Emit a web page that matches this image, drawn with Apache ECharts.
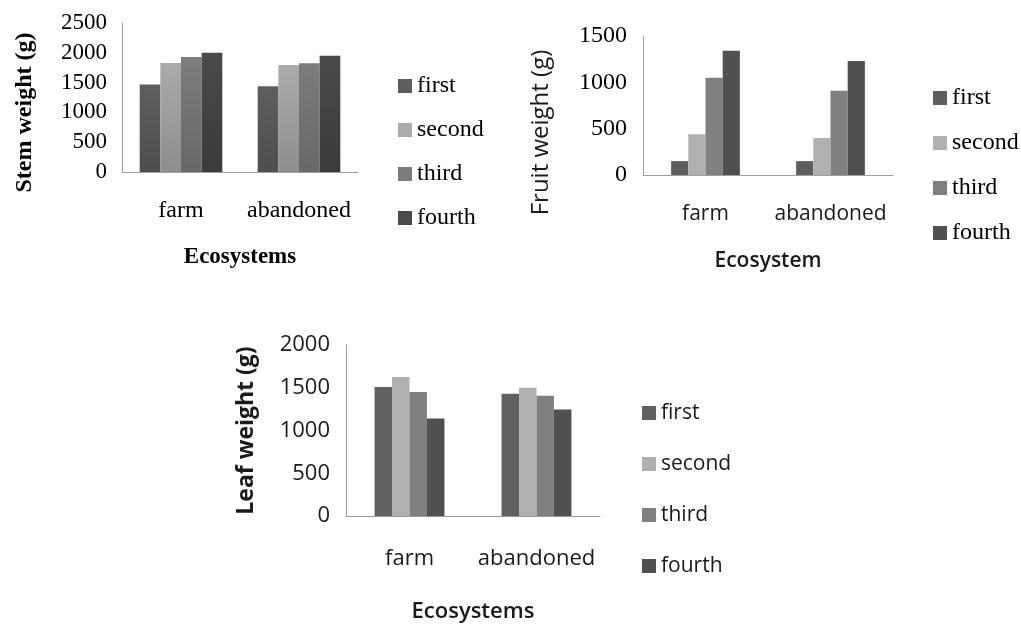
<!DOCTYPE html>
<html>
<head>
<meta charset="utf-8">
<script src="https://cdn.jsdelivr.net/npm/echarts@6/dist/echarts.min.js"></script>
<style>
html,body{margin:0;padding:0;background:#fff;}
#c{width:1021px;height:627px;}
</style>
</head>
<body>
<div id="c"></div>
<script>
const categories = ['farm', 'abandoned'];
const seriesNames = ['first', 'second', 'third', 'fourth'];

const stemFirst = [1470, 1440];
const stemSecond = [1830, 1795];
const stemThird = [1930, 1825];
const stemFourth = [2000, 1950];

const fruitFirst = [150, 150];
const fruitSecond = [440, 400];
const fruitThird = [1050, 910];
const fruitFourth = [1340, 1230];

const leafFirst = [1510, 1430];
const leafSecond = [1625, 1500];
const leafThird = [1450, 1405];
const leafFourth = [1140, 1245];

const stemData = [stemFirst, stemSecond, stemThird, stemFourth];
const fruitData = [fruitFirst, fruitSecond, fruitThird, fruitFourth];
const leafData = [leafFirst, leafSecond, leafThird, leafFourth];

const stemColors = [['#5e5e5e', '#4e4e4e'], ['#ababab', '#8e8e8e'], ['#7c7c7c', '#686868'], ['#4a4a4a', '#3a3a3a']];
const fruitColors = ['#5e5e5e', '#b0b0b0', '#808080', '#505050'];
const leafColors = ['#616161', '#b0b0b0', '#808080', '#505050'];

const serif = 'Liberation Serif';
const sans = 'Open Sans';

function grad(c) {
  return new echarts.graphic.LinearGradient(0, 0, 0, 1, [
    { offset: 0, color: c[0] }, { offset: 1, color: c[1] }
  ]);
}
function plain(v) { return String(v); }

const chart = echarts.init(document.getElementById('c'), null, { renderer: 'canvas' });

const series = [];
seriesNames.forEach((n, i) => {
  series.push({
    name: n, type: 'bar', xAxisIndex: 0, yAxisIndex: 0, data: stemData[i],
    barGap: '0%', barCategoryGap: '30%',
    itemStyle: { color: grad(stemColors[i]) }
  });
});
seriesNames.forEach((n, i) => {
  series.push({
    name: n, type: 'bar', xAxisIndex: 1, yAxisIndex: 1, data: fruitData[i],
    barGap: '0%', barCategoryGap: '45%',
    itemStyle: { color: fruitColors[i] }
  });
});
seriesNames.forEach((n, i) => {
  series.push({
    name: n, type: 'bar', xAxisIndex: 2, yAxisIndex: 2, data: leafData[i],
    barGap: '0%', barCategoryGap: '45%',
    itemStyle: { color: leafColors[i] }
  });
});

function legendData(colors) {
  return seriesNames.map((n, i) => ({
    name: n, icon: 'rect',
    itemStyle: { color: Array.isArray(colors[i]) ? colors[i][0] : colors[i] }
  }));
}

const axisLineStyle = { show: true, lineStyle: { color: '#a0a0a0', width: 1 } };

const option = {
  animation: false,
  backgroundColor: '#ffffff',
  grid: [
    { left: 122, top: 23, width: 236, height: 149, containLabel: false, outerBoundsMode: 'none' },
    { left: 643, top: 36, width: 250, height: 139, containLabel: false, outerBoundsMode: 'none' },
    { left: 346, top: 345, width: 254, height: 171, containLabel: false, outerBoundsMode: 'none' }
  ],
  legend: [
    {
      orient: 'vertical', left: 398, top: 74, padding: 0, itemGap: 20,
      itemWidth: 14, itemHeight: 14, selectedMode: false,
      textStyle: { fontFamily: serif, fontSize: 24, color: '#000', lineHeight: 23 },
      data: legendData(stemColors)
    },
    {
      orient: 'vertical', left: 933, top: 86, padding: 0, itemGap: 21,
      itemWidth: 14, itemHeight: 14, selectedMode: false,
      textStyle: { fontFamily: serif, fontSize: 24, color: '#000', lineHeight: 23 },
      data: legendData(fruitColors)
    },
    {
      orient: 'vertical', left: 642, top: 402, padding: 0, itemGap: 29,
      itemWidth: 14, itemHeight: 14, selectedMode: false,
      textStyle: { fontFamily: sans, fontSize: 21, color: '#1a1a1a', lineHeight: 22 },
      data: legendData(leafColors)
    }
  ],
  xAxis: [
    {
      gridIndex: 0, type: 'category', data: categories,
      axisLine: axisLineStyle, axisTick: { show: false },
      axisLabel: { interval: 0, margin: 27, fontFamily: serif, fontSize: 24, color: '#000' },
      name: 'Ecosystems', nameLocation: 'middle', nameGap: 74,
      nameTextStyle: { fontFamily: serif, fontSize: 23, fontWeight: 'bold', color: '#000' }
    },
    {
      gridIndex: 1, type: 'category', data: categories,
      axisLine: axisLineStyle, axisTick: { show: false },
      axisLabel: { interval: 0, margin: 29, fontFamily: sans, fontSize: 21, color: '#1a1a1a' },
      name: 'Ecosystem', nameLocation: 'middle', nameGap: 76,
      nameTextStyle: { fontFamily: sans, fontSize: 21, fontWeight: 600, color: '#1a1a1a' }
    },
    {
      gridIndex: 2, type: 'category', data: categories,
      axisLine: { show: true, lineStyle: { color: '#999', width: 1 } }, axisTick: { show: false },
      axisLabel: { interval: 0, margin: 32, fontFamily: sans, fontSize: 22, color: '#1a1a1a' },
      name: 'Ecosystems', nameLocation: 'middle', nameGap: 85,
      nameTextStyle: { fontFamily: sans, fontSize: 22, fontWeight: 600, color: '#1a1a1a' }
    }
  ],
  yAxis: [
    {
      gridIndex: 0, type: 'value', min: 0, max: 2500, interval: 500,
      axisLine: axisLineStyle, axisTick: { show: false }, splitLine: { show: false },
      axisLabel: { margin: 15, fontFamily: serif, fontSize: 23, color: '#000', formatter: plain },
      name: 'Stem weight (g)', nameLocation: 'middle', nameRotate: 90, nameGap: 85,
      nameTextStyle: { fontFamily: serif, fontSize: 24, fontWeight: 'bold', color: '#000', padding: [0, 30, 0, 0] }
    },
    {
      gridIndex: 1, type: 'value', min: 0, max: 1500, interval: 500,
      axisLine: axisLineStyle, axisTick: { show: false }, splitLine: { show: false },
      axisLabel: { margin: 16, fontFamily: serif, fontSize: 24, color: '#000', formatter: plain },
      name: 'Fruit weight (g)', nameLocation: 'middle', nameRotate: 90, nameGap: 90,
      nameTextStyle: { fontFamily: sans, fontSize: 24, fontWeight: 500, color: '#1a1a1a', padding: [0, 54, 0, 0] }
    },
    {
      gridIndex: 2, type: 'value', min: 0, max: 2000, interval: 500,
      axisLine: { show: true, lineStyle: { color: '#999', width: 1 } }, axisTick: { show: false }, splitLine: { show: false },
      axisLabel: { margin: 16, fontFamily: sans, fontSize: 22, color: '#1a1a1a', formatter: plain },
      name: 'Leaf weight (g)', nameLocation: 'middle', nameRotate: 90, nameGap: 88,
      nameTextStyle: { fontFamily: sans, fontSize: 23, fontWeight: 'bold', color: '#1a1a1a' }
    }
  ],
  series: series
};

chart.setOption(option);
</script>
</body>
</html>
